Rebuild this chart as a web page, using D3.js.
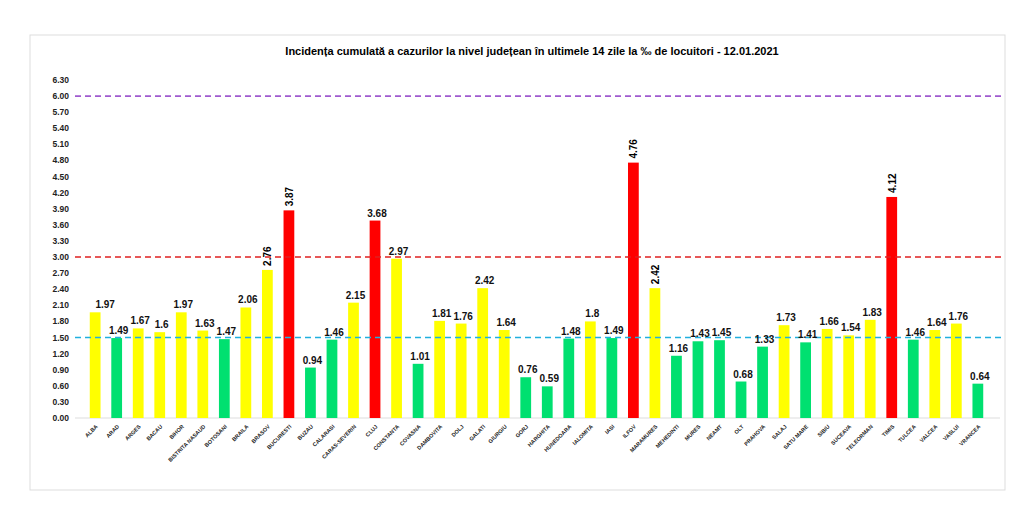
<!DOCTYPE html><html><head><meta charset="utf-8"><script src="https://cdn.jsdelivr.net/npm/d3@7"></script>
<style>body{margin:0;background:#fff}</style></head><body><svg id="c" width="1024" height="518"></svg>
<script>
const categories=["ALBA","ARAD","ARGES","BACAU","BIHOR","BISTRITA NASAUD","BOTOSANI","BRAILA","BRASOV","BUCURESTI","BUZAU","CALARASI","CARAS-SEVERIN","CLUJ","CONSTANTA","COVASNA","DAMBOVITA","DOLJ","GALATI","GIURGIU","GORJ","HARGHITA","HUNEDOARA","IALOMITA","IASI","ILFOV","MARAMURES","MEHEDINTI","MURES","NEAMT","OLT","PRAHOVA","SALAJ","SATU MARE","SIBIU","SUCEAVA","TELEORMAN","TIMIS","TULCEA","VALCEA","VASLUI","VRANCEA"];
const values=[1.97,1.49,1.67,1.6,1.97,1.63,1.47,2.06,2.76,3.87,0.94,1.46,2.15,3.68,2.97,1.01,1.81,1.76,2.42,1.64,0.76,0.59,1.48,1.8,1.49,4.76,2.42,1.16,1.43,1.45,0.68,1.33,1.73,1.41,1.66,1.54,1.83,4.12,1.46,1.64,1.76,0.64];
const rotatedLabels=["BRASOV","BUCURESTI","ILFOV","MARAMURES","TIMIS"];
const yTicks=d3.range(0,6.31,0.3);
const refLines=[{v:6,c:"#a05ad0"},{v:3,c:"#e02020"},{v:1.5,c:"#20b0e0"}];
const svg=d3.select("#c");
svg.append("rect").attr("x",30).attr("y",35).attr("width",975).attr("height",455).attr("fill","#fff").attr("stroke","#ddd");
svg.append("text").attr("x",532).attr("y",55).attr("text-anchor","middle").attr("font-family","Liberation Sans, Arial").attr("font-weight","bold").attr("font-size",11).text("Incidența cumulată a cazurilor la nivel județean în ultimele 14 zile la ‰ de locuitori - 12.01.2021");
const x=d3.scaleBand().domain(categories).range([79,994]).padding(0.5);
const y=d3.scaleLinear().domain([0,6.3]).range([418,80]);
const col=v=>v>3?"#ff0000":(v<1.5?"#00e070":"#ffff00");
const g=svg.append("g");
yTicks.forEach(t=>g.append("text").attr("x",69).attr("y",y(t)+3).attr("text-anchor","end").attr("font-family","Liberation Sans, Arial").attr("font-weight","bold").attr("font-size",8.5).attr("fill","#222").text(t.toFixed(2)));
svg.append("line").attr("x1",75).attr("x2",1000).attr("y1",y(0)).attr("y2",y(0)).attr("stroke","#ddd");
svg.selectAll(".b").data(values).enter().append("rect").attr("x",(d,i)=>x(categories[i])).attr("width",x.bandwidth()).attr("y",d=>y(d)).attr("height",d=>y(0)-y(d)).attr("fill",d=>col(d));
refLines.forEach(r=>svg.append("line").attr("x1",75).attr("x2",1003).attr("y1",y(r.v)).attr("y2",y(r.v)).attr("stroke",r.c).attr("stroke-width",1.6).attr("stroke-dasharray","6,4"));
values.forEach((d,i)=>{const c=categories[i],cx=x(c)+x.bandwidth()/2;
 if(rotatedLabels.includes(c)) svg.append("text").attr("transform",`translate(${cx+4},${y(d)-4}) rotate(-90)`).attr("font-family","Liberation Sans, Arial").attr("font-weight","bold").attr("font-size",10).text(d);
 else svg.append("text").attr("x",cx+(c==="ALBA"?10:2)).attr("y",y(d)-4).attr("text-anchor","middle").attr("font-family","Liberation Sans, Arial").attr("font-weight","bold").attr("font-size",10).attr("fill","#111").text(d);
 svg.append("text").attr("transform",`translate(${cx+3},${427}) rotate(-45)`).attr("text-anchor","end").attr("font-family","Liberation Sans, Arial").attr("font-weight","bold").attr("font-size",5.5).attr("fill","#222").text(c);
});
</script></body></html>
